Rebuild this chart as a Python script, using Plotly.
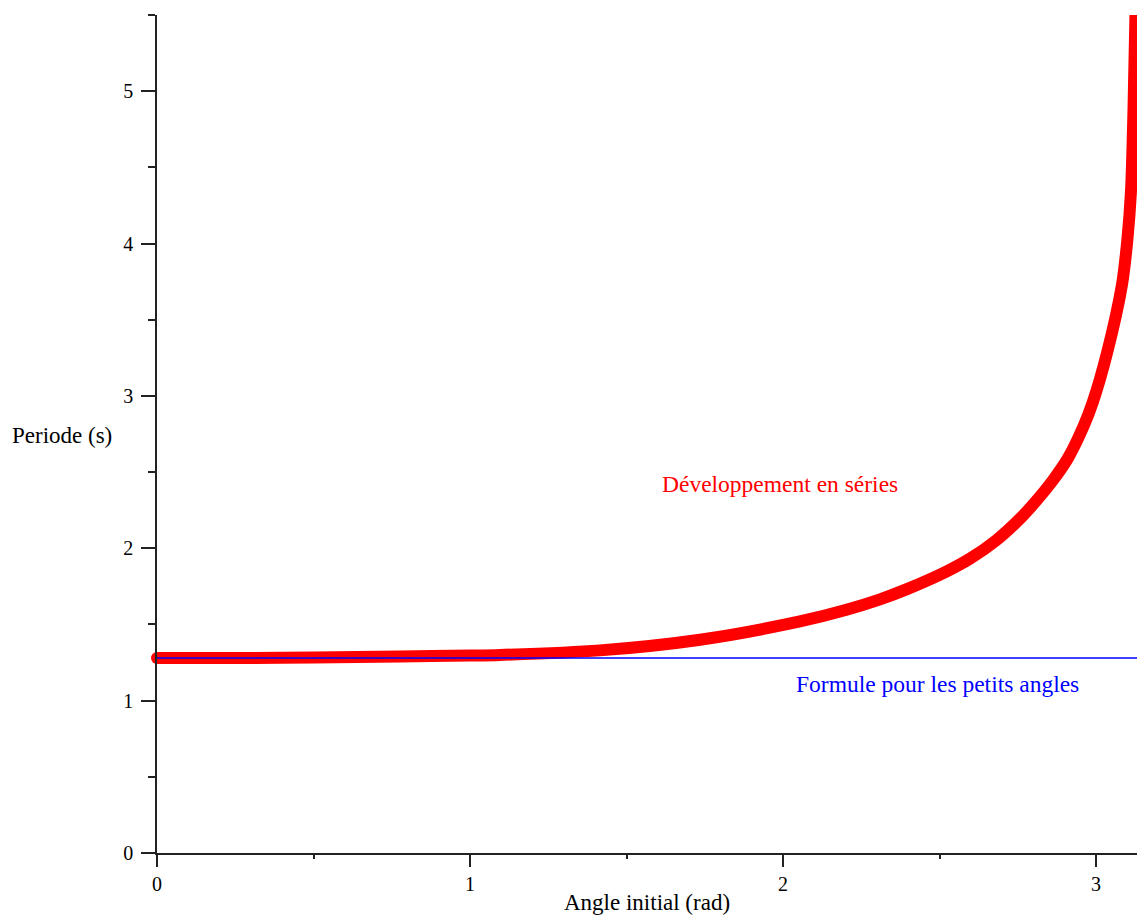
import plotly.graph_objects as go

# Series development curve
series_angle = [0.0, 0.3, 0.5, 0.776, 1.0, 1.096, 1.415, 1.735, 2.054, 2.20, 2.31,
                2.40, 2.52, 2.60, 2.68, 2.76, 2.80, 2.86, 2.91, 2.96, 2.99, 3.035,
                3.083, 3.10, 3.112, 3.12, 3.126]
series_period = [1.28, 1.28, 1.283, 1.29, 1.296, 1.30, 1.33, 1.40, 1.52, 1.595, 1.665,
                 1.735, 1.845, 1.935, 2.05, 2.20, 2.29, 2.44, 2.59, 2.80, 2.96, 3.28,
                 3.73, 4.02, 4.35, 4.9, 5.5]

# Small-angle formula (constant period)
small_angle_x = [0.0, 3.14]
small_angle_T = [1.28, 1.28]

x_ticks = [0, 1, 2, 3]
y_ticks = [0, 1, 2, 3, 4, 5]

FONT = "Liberation Serif"
AXC = "#222222"

fig = go.Figure()
fig.add_trace(go.Scatter(x=series_angle, y=series_period, mode="lines",
                         line=dict(color="#ff0000", width=12, shape="spline", smoothing=0.8),
                         hoverinfo="skip", showlegend=False))
fig.add_trace(go.Scatter(x=series_angle[:1], y=series_period[:1], mode="markers",
                         marker=dict(color="#ff0000", size=12, symbol="circle"),
                         cliponaxis=False, hoverinfo="skip", showlegend=False))
fig.add_trace(go.Scatter(x=small_angle_x, y=small_angle_T, mode="lines",
                         line=dict(color="#0000ff", width=1.5),
                         hoverinfo="skip", showlegend=False))

fig.update_layout(
    width=1137, height=917,
    margin=dict(l=157, r=0, t=15, b=64),
    paper_bgcolor="white", plot_bgcolor="white",
    font=dict(family=FONT, size=20, color="black"),
    xaxis=dict(range=[0, 3.131], tickvals=x_ticks, ticks="outside", ticklen=12,
               tickwidth=1.5, tickcolor=AXC, showline=True, linecolor=AXC, linewidth=1.5,
               showgrid=False, zeroline=False, automargin=False,
               minor=dict(ticks="outside", ticklen=4, dtick=0.5, tickwidth=1.5,
                          tickcolor=AXC, showgrid=False)),
    yaxis=dict(range=[0, 5.5], tickvals=y_ticks, ticks="outside", ticklen=14,
               tickwidth=1.5, tickcolor=AXC, showline=True, linecolor=AXC, linewidth=1.5,
               showgrid=False, zeroline=False, automargin=False, ticklabelstandoff=4,
               minor=dict(ticks="outside", ticklen=7, dtick=0.5, tickwidth=1.5,
                          tickcolor=AXC, showgrid=False)),
    annotations=[
        dict(text="Développement en séries", x=1.992, y=2.42, xref="x", yref="y",
             xanchor="center", yanchor="middle",
             showarrow=False, font=dict(family=FONT, size=23.5, color="#ff0000")),
        dict(text="Formule pour les petits angles", x=2.495, y=1.109, xref="x", yref="y",
             xanchor="center", yanchor="middle",
             showarrow=False, font=dict(family=FONT, size=23.5, color="#0000ff")),
        dict(text="Angle initial (rad)", x=(647 - 157) / 980, y=0, xref="paper", yref="paper",
             xanchor="center", yanchor="middle",
             yshift=-49, showarrow=False, font=dict(family=FONT, size=23, color="black")),
        dict(text="Periode (s)", x=-147 / 980, y=2.74, xref="paper", yref="y",
             xanchor="left", yanchor="middle",
             showarrow=False, font=dict(family=FONT, size=23, color="black")),
    ],
)

fig.write_html("out.html", config={"displayModeBar": False},
               post_script="document.body.style.margin='0px';")
